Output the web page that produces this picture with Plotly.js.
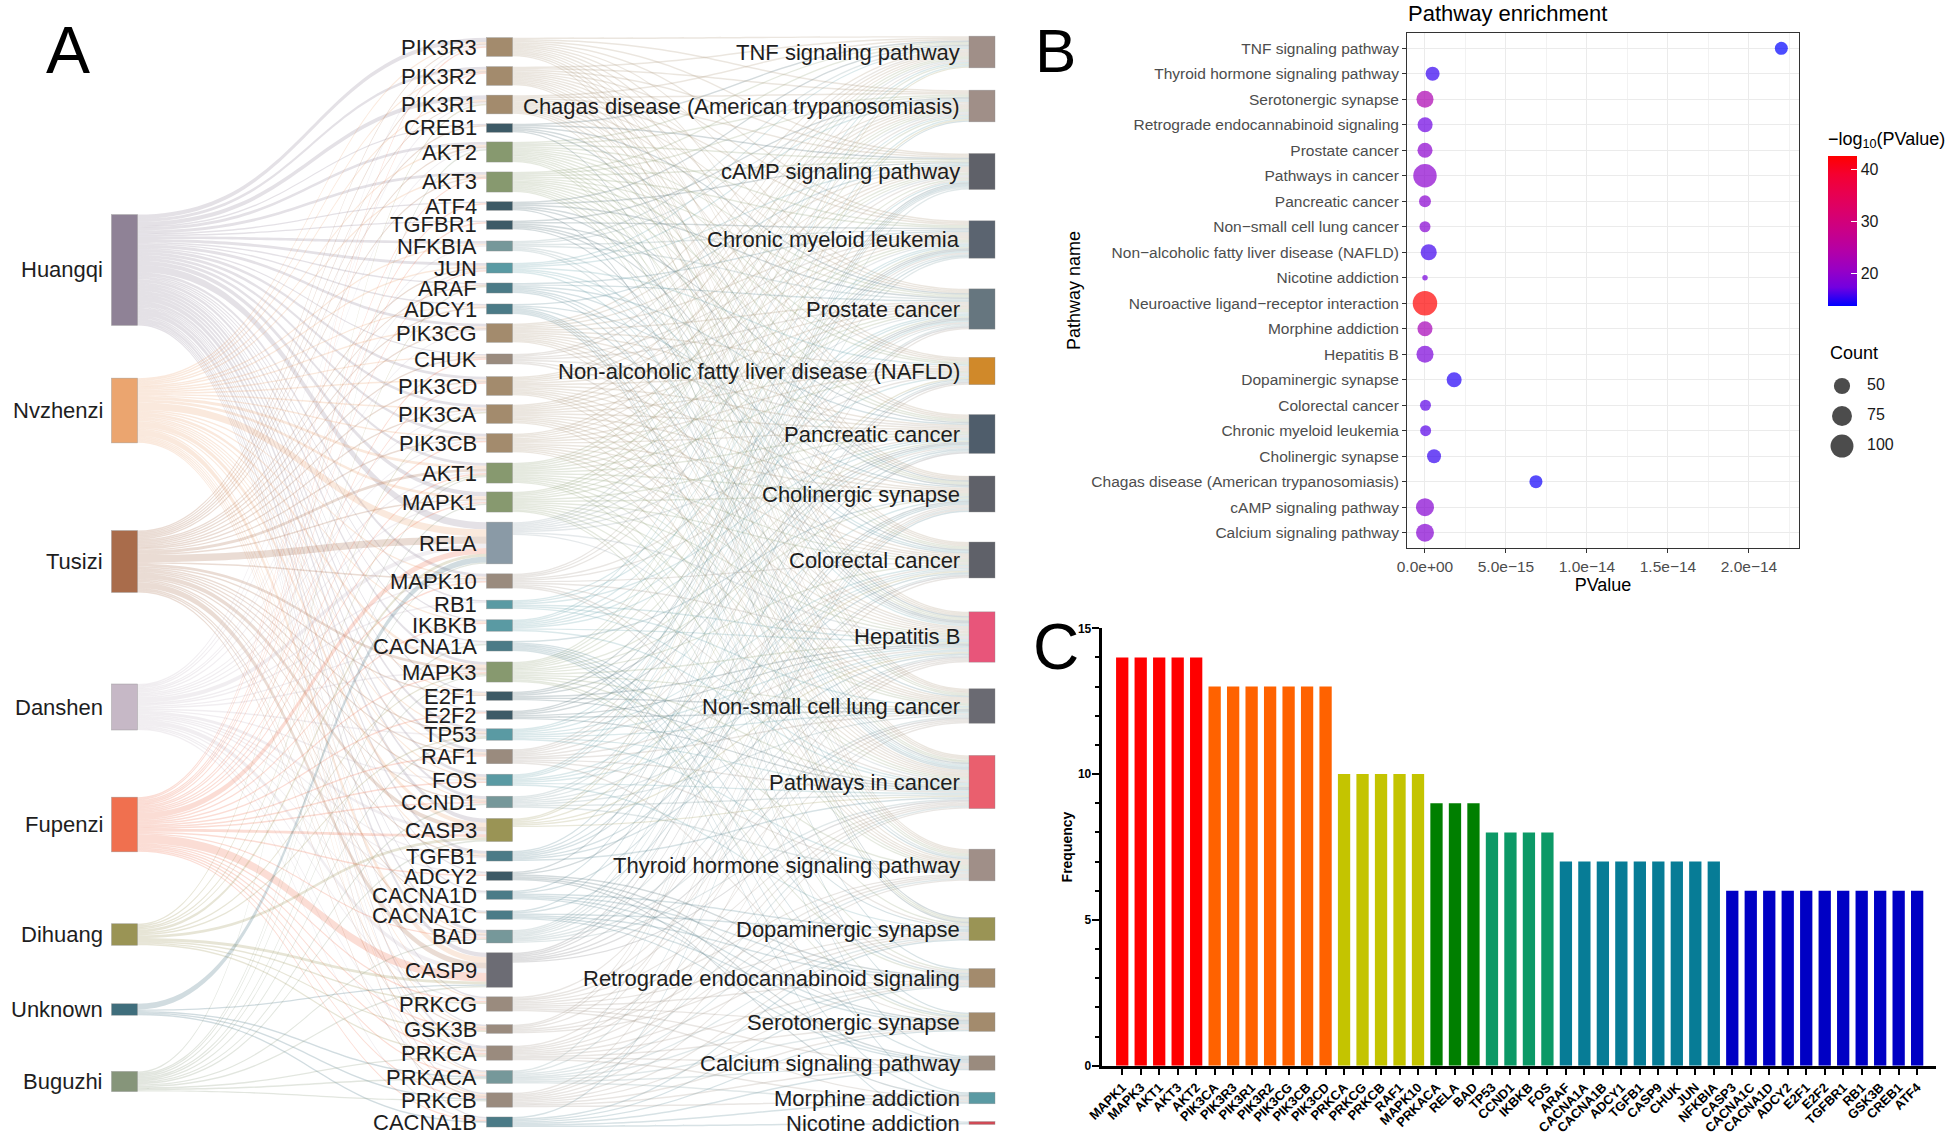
<!DOCTYPE html>
<html>
<head>
<meta charset="utf-8">
<script src="https://cdn.plot.ly/plotly-3.0.1.min.js"></script>
<style>
html,body{margin:0;padding:0;background:#ffffff;}
#chart{width:1960px;height:1136px;}
</style>
</head>
<body>
<div id="chart"></div>
<script>
// ======================= DATA =======================
// Panel A — Sankey: herbs -> target genes -> KEGG pathways
const herbs = ["Huangqi","Nvzhenzi","Tusizi","Danshen","Fupenzi","Dihuang","Unknown","Buguzhi"];

const sankeyGenes = ["PIK3R3","PIK3R2","PIK3R1","CREB1","AKT2","AKT3","ATF4","TGFBR1","NFKBIA","JUN",
  "ARAF","ADCY1","PIK3CG","CHUK","PIK3CD","PIK3CA","PIK3CB","AKT1","MAPK1","RELA",
  "MAPK10","RB1","IKBKB","CACNA1A","MAPK3","E2F1","E2F2","TP53","RAF1","FOS",
  "CCND1","CASP3","TGFB1","ADCY2","CACNA1D","CACNA1C","BAD","CASP9","PRKCG","GSK3B",
  "PRKCA","PRKACA","PRKCB","CACNA1B"];

const sankeyPathways = ["TNF signaling pathway","Chagas disease (American trypanosomiasis)","cAMP signaling pathway",
  "Chronic myeloid leukemia","Prostate cancer","Non-alcoholic fatty liver disease (NAFLD)","Pancreatic cancer",
  "Cholinergic synapse","Colorectal cancer","Hepatitis B","Non-small cell lung cancer","Pathways in cancer",
  "Thyroid hormone signaling pathway","Dopaminergic synapse","Retrograde endocannabinoid signaling",
  "Serotonergic synapse","Calcium signaling pathway","Morphine addiction","Nicotine addiction"];

// herb -> gene link weights
const herbGeneLinks = {
  Huangqi: {PIK3R3:3,PIK3R2:2,PIK3R1:3,CREB1:1,AKT2:2,AKT3:2,ATF4:1,TGFBR1:1,NFKBIA:2,JUN:2,ARAF:1,ADCY1:1,
    PIK3CG:2,CHUK:1,PIK3CD:2,PIK3CA:2,PIK3CB:2,AKT1:2,MAPK1:3,RELA:5,MAPK10:2,RB1:1,IKBKB:1,CACNA1A:1,
    MAPK3:2,E2F1:1,E2F2:1,TP53:2,RAF1:2,FOS:2,CCND1:2,CASP3:3,TGFB1:2,ADCY2:1,CACNA1D:1,CACNA1C:1,BAD:2,
    CASP9:3,PRKCG:1,GSK3B:1,PRKCA:2,PRKACA:1,PRKCB:1,CACNA1B:1},
  Nvzhenzi: {PIK3R3:1,PIK3R1:1,AKT2:1,AKT3:1,JUN:1,PIK3CG:1,PIK3CD:1,PIK3CA:1,PIK3CB:1,AKT1:2,MAPK1:2,RELA:5,
    MAPK10:1,MAPK3:2,TP53:1,FOS:1,CCND1:1,CASP3:3,TGFB1:1,BAD:1,CASP9:4,GSK3B:1,PRKCA:1,PRKCB:1,PRKCG:1,
    NFKBIA:1,IKBKB:1,PIK3R2:1,CHUK:1,RAF1:1,PRKACA:1,ADCY1:1,E2F1:1},
  Tusizi: {PIK3R3:1,PIK3R2:1,PIK3R1:1,CREB1:1,AKT2:1,AKT3:1,JUN:1,PIK3CG:1,PIK3CD:1,PIK3CA:1,PIK3CB:1,AKT1:2,
    MAPK1:1,RELA:5,MAPK10:1,MAPK3:2,TP53:1,RAF1:1,FOS:1,CCND1:1,CASP3:3,TGFB1:1,BAD:1,CASP9:4,PRKCA:1,PRKCB:1,
    GSK3B:1,E2F1:1,ADCY1:1,CACNA1C:1,ARAF:1,CHUK:1},
  Danshen: {PIK3R3:1,PIK3R1:1,AKT2:1,PIK3CG:1,PIK3CA:1,AKT1:1,MAPK1:1,RELA:3,MAPK3:1,TP53:1,FOS:1,CASP3:2,
    TGFB1:1,BAD:1,CASP9:3,PRKCG:1,PRKCA:1,PRKACA:1,CACNA1A:1,CACNA1B:1,CACNA1D:1,ADCY2:1,JUN:1,NFKBIA:1,
    MAPK10:1,RB1:1,PIK3CB:1},
  Fupenzi: {PIK3R2:1,PIK3R3:1,AKT3:1,TGFBR1:1,JUN:1,PIK3CD:1,PIK3CB:1,AKT1:1,MAPK1:1,RELA:4,MAPK10:1,IKBKB:1,
    MAPK3:1,E2F2:1,RAF1:1,FOS:1,CCND1:1,CASP3:2,ADCY2:1,BAD:1,CASP9:6,PRKCG:1,GSK3B:1,PRKCA:1,PRKACA:1,
    PRKCB:1,CACNA1B:1,CHUK:1,ATF4:1},
  Dihuang: {AKT1:1,MAPK3:1,RELA:2,CASP3:2,CASP9:2,PIK3R1:1,PIK3CA:1,TP53:1,PRKCG:1,PRKCA:1,GSK3B:1,ARAF:1},
  Unknown: {RELA:4,CASP9:1,PRKACA:1,PRKCB:1,CACNA1B:1},
  Buguzhi: {RELA:1,CASP3:1,CASP9:1,MAPK1:1,AKT1:1,PRKCA:1,PRKACA:1,PRKCB:1,CACNA1A:1,MAPK3:1,CCND1:1,TP53:1,BAD:1,AKT2:1}
};

// gene membership of each pathway (gene -> pathway links, weight 1 each)
const pathwayGenes = {
  "TNF signaling pathway": ["PIK3CA","PIK3CB","PIK3CD","PIK3CG","PIK3R1","PIK3R2","PIK3R3","AKT1","AKT2","AKT3","MAPK1","MAPK3",
    "MAPK10","FOS","JUN","CREB1","ATF4","NFKBIA","IKBKB","CHUK","RELA","CASP3"],
  "Chagas disease (American trypanosomiasis)": ["PIK3CA","PIK3CB","PIK3CD","PIK3CG","PIK3R1","PIK3R2","PIK3R3","AKT1","AKT2","AKT3","MAPK1","MAPK3",
    "MAPK10","FOS","JUN","NFKBIA","IKBKB","CHUK","RELA","TGFB1","TGFBR1","CASP3"],
  "cAMP signaling pathway": ["PIK3CA","PIK3CB","PIK3CD","PIK3CG","PIK3R1","PIK3R2","PIK3R3","AKT1","AKT2","AKT3","MAPK1","MAPK3",
    "RAF1","PRKACA","ADCY1","ADCY2","CREB1","ATF4","CACNA1C","CACNA1D","MAPK10","JUN","FOS","RELA","BAD"],
  "Chronic myeloid leukemia": ["PIK3CA","PIK3CB","PIK3CD","PIK3CG","PIK3R1","PIK3R2","PIK3R3","AKT1","AKT2","AKT3","MAPK1","MAPK3",
    "RAF1","ARAF","BAD","TP53","CCND1","E2F1","E2F2","RB1","IKBKB","CHUK","NFKBIA","RELA","TGFB1","TGFBR1"],
  "Prostate cancer": ["PIK3CA","PIK3CB","PIK3CD","PIK3CG","PIK3R1","PIK3R2","PIK3R3","AKT1","AKT2","AKT3","MAPK1","MAPK3",
    "RAF1","ARAF","BAD","TP53","CCND1","E2F1","E2F2","RB1","IKBKB","CHUK","NFKBIA","RELA","CREB1","ATF4","GSK3B","CASP9"],
  "Non-alcoholic fatty liver disease (NAFLD)": ["PIK3CA","PIK3CB","PIK3CD","PIK3CG","PIK3R1","PIK3R2","PIK3R3","AKT1","AKT2","AKT3",
    "MAPK10","JUN","IKBKB","RELA","CASP3","TGFB1","GSK3B","BAD","CASP9"],
  "Pancreatic cancer": ["PIK3CA","PIK3CB","PIK3CD","PIK3CG","PIK3R1","PIK3R2","PIK3R3","AKT1","AKT2","AKT3","MAPK1","MAPK3",
    "RAF1","ARAF","BAD","TP53","CCND1","E2F1","E2F2","RB1","IKBKB","CHUK","RELA","TGFB1","TGFBR1","MAPK10","CASP9"],
  "Cholinergic synapse": ["PIK3CA","PIK3CB","PIK3CD","PIK3CG","PIK3R1","PIK3R2","PIK3R3","AKT1","AKT2","AKT3","MAPK1","MAPK3",
    "PRKCA","PRKCB","PRKCG","PRKACA","ADCY1","ADCY2","CREB1","ATF4","CACNA1A","CACNA1B","CACNA1C","CACNA1D","FOS"],
  "Colorectal cancer": ["PIK3CA","PIK3CB","PIK3CD","PIK3CG","PIK3R1","PIK3R2","PIK3R3","AKT1","AKT2","AKT3","MAPK1","MAPK3",
    "RAF1","ARAF","BAD","TP53","CCND1","MAPK10","JUN","FOS","CASP3","CASP9","TGFB1","TGFBR1","GSK3B"],
  "Hepatitis B": ["PIK3CA","PIK3CB","PIK3CD","PIK3CG","PIK3R1","PIK3R2","PIK3R3","AKT1","AKT2","AKT3","MAPK1","MAPK3",
    "RAF1","PRKCA","PRKCB","PRKCG","MAPK10","JUN","FOS","CREB1","ATF4","NFKBIA","IKBKB","CHUK","RELA","TP53","CCND1",
    "E2F1","E2F2","RB1","CASP3","CASP9","BAD","TGFB1","TGFBR1"],
  "Non-small cell lung cancer": ["PIK3CA","PIK3CB","PIK3CD","PIK3CG","PIK3R1","PIK3R2","PIK3R3","AKT1","AKT2","AKT3","MAPK1","MAPK3",
    "RAF1","ARAF","BAD","TP53","CCND1","E2F1","E2F2","RB1","PRKCA","PRKCB","PRKCG","CASP9"],
  "Pathways in cancer": ["PIK3CA","PIK3CB","PIK3CD","PIK3CG","PIK3R1","PIK3R2","PIK3R3","AKT1","AKT2","AKT3","MAPK1","MAPK3",
    "RAF1","ARAF","BAD","TP53","CCND1","E2F1","E2F2","RB1","PRKCA","PRKCB","PRKCG","PRKACA","MAPK10","JUN","FOS","NFKBIA",
    "IKBKB","CHUK","RELA","CASP3","CASP9","TGFB1","TGFBR1","GSK3B","ADCY1"],
  "Thyroid hormone signaling pathway": ["PIK3CA","PIK3CB","PIK3CD","PIK3CG","PIK3R1","PIK3R2","PIK3R3","AKT1","AKT2","AKT3","MAPK1","MAPK3",
    "RAF1","ARAF","PRKCA","PRKCB","PRKCG","PRKACA","TP53","CCND1","GSK3B","NFKBIA"],
  "Dopaminergic synapse": ["AKT1","AKT2","AKT3","MAPK10","PRKCA","PRKCB","PRKCG","PRKACA","CACNA1A","CACNA1B","CACNA1C","CACNA1D",
    "CREB1","ATF4","GSK3B","FOS"],
  "Retrograde endocannabinoid signaling": ["MAPK1","MAPK3","MAPK10","PRKCA","PRKCB","PRKCG","PRKACA","ADCY1","ADCY2",
    "CACNA1A","CACNA1B","CACNA1C","CACNA1D"],
  "Serotonergic synapse": ["MAPK1","MAPK3","RAF1","PRKCA","PRKCB","PRKCG","PRKACA","CACNA1A","CACNA1B","CACNA1C","CACNA1D","ADCY1","ADCY2"],
  "Calcium signaling pathway": ["PRKCA","PRKCB","PRKCG","PRKACA","ADCY1","ADCY2","CACNA1A","CACNA1B","CACNA1C","CACNA1D"],
  "Morphine addiction": ["PRKCA","PRKCB","PRKCG","PRKACA","ADCY1","ADCY2","CACNA1A","CACNA1B"],
  "Nicotine addiction": ["CACNA1A","CACNA1B"]
};

// Panel B — pathway enrichment (rows listed top to bottom)
const enrichPathways = ["TNF signaling pathway","Thyroid hormone signaling pathway","Serotonergic synapse",
  "Retrograde endocannabinoid signaling","Prostate cancer","Pathways in cancer","Pancreatic cancer",
  "Non\u2212small cell lung cancer","Non\u2212alcoholic fatty liver disease (NAFLD)","Nicotine addiction",
  "Neuroactive ligand\u2212receptor interaction","Morphine addiction","Hepatitis B","Dopaminergic synapse",
  "Colorectal cancer","Chronic myeloid leukemia","Cholinergic synapse","Chagas disease (American trypanosomiasis)",
  "cAMP signaling pathway","Calcium signaling pathway"];
const enrichPValue = [2.2e-14, 4.7e-16, 6e-24, 8e-18, 3e-20, 3e-20, 5e-20, 1e-19, 2.3e-16, 2e-18,
  2e-43, 4e-23, 1e-18, 1.8e-15, 3e-17, 4e-17, 5.6e-16, 6.85e-15, 1e-19, 1e-19];
const enrichCount = [35, 39, 55, 44, 44, 105, 31, 28, 49, 20, 115, 44, 55, 44, 28, 28, 39, 35, 61, 61];
const countLegendValues = [50, 75, 100];
const pTickVals = [0, 5e-15, 1e-14, 1.5e-14, 2e-14];
const pTickText = ["0.0e+00","5.0e\u221215","1.0e\u221214","1.5e\u221214","2.0e\u221214"];
const colorTickVals = [20, 30, 40];

// Panel C — gene frequency
const barGenes = ["MAPK1","MAPK3","AKT1","AKT3","AKT2","PIK3CA","PIK3R3","PIK3R1","PIK3R2","PIK3CG","PIK3CB","PIK3CD",
  "PRKCA","PRKCG","PRKCB","RAF1","MAPK10","PRKACA","RELA","BAD","TP53","CCND1","IKBKB","FOS",
  "ARAF","CACNA1A","CACNA1B","ADCY1","TGFB1","CASP9","CHUK","JUN","NFKBIA",
  "CASP3","CACNA1C","CACNA1D","ADCY2","E2F1","E2F2","TGFBR1","RB1","GSK3B","CREB1","ATF4"];
const barFrequency = [14,14,14,14,14,13,13,13,13,13,13,13,10,10,10,10,10,9,9,9,8,8,8,8,
  7,7,7,7,7,7,7,7,7,6,6,6,6,6,6,6,6,6,6,6];

// ======================= STYLE / LAYOUT =======================
const W = 1960, H = 1136;
const FONT = "Liberation Sans, Arial, Helvetica, sans-serif";

const HERB_COLOR = {Huangqi:"#8f8296",Nvzhenzi:"#eba56f",Tusizi:"#a96c4b",Danshen:"#c6b8c6",
  Fupenzi:"#f0704f",Dihuang:"#9a9455",Unknown:"#3f6e7c",Buguzhi:"#86957a"};
const TAN="#a38b6d", SLATE="#3d5a66", SAGE="#87996f", GTEAL="#76989a", TEAL="#5a9aa3",
      DTEAL="#4b7b87", TAUPE="#9a8b7e";
const GENE_COLOR = {PIK3R3:TAN,PIK3R2:TAN,PIK3R1:TAN,PIK3CG:TAN,PIK3CD:TAN,PIK3CA:TAN,PIK3CB:TAN,
  CREB1:SLATE,ATF4:SLATE,TGFBR1:SLATE,E2F1:SLATE,E2F2:SLATE,ADCY2:SLATE,
  AKT2:SAGE,AKT3:SAGE,AKT1:SAGE,MAPK1:SAGE,MAPK3:SAGE,
  NFKBIA:GTEAL,CCND1:GTEAL,BAD:GTEAL,PRKACA:GTEAL,
  JUN:TEAL,RB1:TEAL,IKBKB:TEAL,TP53:TEAL,FOS:TEAL,
  ARAF:DTEAL,ADCY1:DTEAL,CACNA1A:DTEAL,TGFB1:DTEAL,CACNA1D:DTEAL,CACNA1C:DTEAL,CACNA1B:DTEAL,
  CHUK:TAUPE,MAPK10:TAUPE,RAF1:TAUPE,PRKCG:TAUPE,GSK3B:TAUPE,PRKCA:TAUPE,PRKCB:TAUPE,
  RELA:"#8a9aa6",CASP3:"#9a9455",CASP9:"#6c6c74"};
const PATH_COLOR = {"TNF signaling pathway":"#a08f88","Chagas disease (American trypanosomiasis)":"#a08f88",
  "cAMP signaling pathway":"#5f6169","Chronic myeloid leukemia":"#5b6470","Prostate cancer":"#66767f",
  "Non-alcoholic fatty liver disease (NAFLD)":"#d0892a","Pancreatic cancer":"#4f5d6b","Cholinergic synapse":"#5f6169",
  "Colorectal cancer":"#5f6169","Hepatitis B":"#e8557a","Non-small cell lung cancer":"#6a6a72",
  "Pathways in cancer":"#ea5f6e","Thyroid hormone signaling pathway":"#a08f88","Dopaminergic synapse":"#9a9455",
  "Retrograde endocannabinoid signaling":"#a38b6d","Serotonergic synapse":"#a38b6d","Calcium signaling pathway":"#9a8b7e",
  "Morphine addiction":"#5a9aa3","Nicotine addiction":"#d04a55"};

// Sankey geometry (pixel placement of node centres in the 1960x1136 page)
const SK_DOMAIN_X = [0, 0.52];
const SK_W = (SK_DOMAIN_X[1]-SK_DOMAIN_X[0]) * W;
const NODE_THICK = 26, NODE_PAD = 11.5;
const COL_X_PX = [124.5, 499.5, 982];
const HERB_Y_PX = {Huangqi:270,Nvzhenzi:410.5,Tusizi:561.5,Danshen:707,Fupenzi:824.5,Dihuang:934.5,Unknown:1009.5,Buguzhi:1081.5};
const GENE_Y_PX = {PIK3R3:47,PIK3R2:76,PIK3R1:104.5,CREB1:128,AKT2:152,AKT3:182,ATF4:206,TGFBR1:225,NFKBIA:246,JUN:268,
  ARAF:288,ADCY1:309,PIK3CG:333,CHUK:359,PIK3CD:386,PIK3CA:414,PIK3CB:443,AKT1:473,MAPK1:502,RELA:543,
  MAPK10:581,RB1:604.5,IKBKB:625.5,CACNA1A:646,MAPK3:672,E2F1:696,E2F2:715,TP53:734.5,RAF1:756.5,FOS:780,
  CCND1:802,CASP3:830,TGFB1:856,ADCY2:876,CACNA1D:895,CACNA1C:915,BAD:936.5,CASP9:970,PRKCG:1004,GSK3B:1029,
  PRKCA:1053,PRKACA:1077,PRKCB:1100,CACNA1B:1122};
const PATH_Y_PX = {"TNF signaling pathway":52,"Chagas disease (American trypanosomiasis)":106,"cAMP signaling pathway":171.5,
  "Chronic myeloid leukemia":239.5,"Prostate cancer":309,"Non-alcoholic fatty liver disease (NAFLD)":371,"Pancreatic cancer":434,
  "Cholinergic synapse":494,"Colorectal cancer":560,"Hepatitis B":637,"Non-small cell lung cancer":706,"Pathways in cancer":782,
  "Thyroid hormone signaling pathway":865,"Dopaminergic synapse":929,"Retrograde endocannabinoid signaling":978,
  "Serotonergic synapse":1022,"Calcium signaling pathway":1063,"Morphine addiction":1098,"Nicotine addiction":1123};

function rgba(hex, a){
  const n = parseInt(hex.slice(1),16);
  return `rgba(${(n>>16)&255},${(n>>8)&255},${n&255},${a})`;
}

// ---- build sankey tables ----
const columns = [herbs, sankeyGenes, sankeyPathways];
const posY = [HERB_Y_PX, GENE_Y_PX, PATH_Y_PX];
const colorMaps = [HERB_COLOR, GENE_COLOR, PATH_COLOR];
const nodeNames = [], nodeX = [], nodeY = [], nodeColor = [];
columns.forEach((col, c) => col.forEach(name => {
  nodeNames.push(name);
  nodeX.push(COL_X_PX[c] / SK_W);
  nodeY.push(posY[c][name] / H);
  nodeColor.push(colorMaps[c][name]);
}));
const idx = {}; nodeNames.forEach((n,i)=>{ idx[n]=i; });

const src=[], tgt=[], val=[], lcol=[];
herbs.forEach(h => Object.keys(herbGeneLinks[h]).forEach(g => {
  src.push(idx[h]); tgt.push(idx[g]); val.push(herbGeneLinks[h][g]); lcol.push(rgba(HERB_COLOR[h], 0.24));
}));
sankeyPathways.forEach(p => pathwayGenes[p].forEach(g => {
  src.push(idx[g]); tgt.push(idx[p]); val.push(1); lcol.push(rgba(GENE_COLOR[g], 0.22));
}));

const sankeyTrace = {
  type: "sankey",
  arrangement: "fixed",
  domain: {x: SK_DOMAIN_X, y: [0, 1]},
  hoverinfo: "none",
  textfont: {family: FONT, size: 1, color: "rgba(0,0,0,0)"},
  node: {
    label: nodeNames,
    x: nodeX, y: nodeY,
    color: nodeColor,
    thickness: NODE_THICK,
    pad: NODE_PAD,
    line: {color: "rgba(140,140,140,0.6)", width: 0.6},
    hoverinfo: "none"
  },
  link: {source: src, target: tgt, value: val, color: lcol, hoverinfo: "none"}
};

// ---- sankey labels (left of each node) ----
const annotations = [];
columns.forEach((col, c) => col.forEach(name => {
  annotations.push({
    xref: "paper", yref: "paper",
    x: (SK_DOMAIN_X[0]*W + COL_X_PX[c]) / W,
    y: 1 - posY[c][name] / H,
    xanchor: "right", yanchor: "middle",
    xshift: -(NODE_THICK/2 + 7),
    text: name, showarrow: false,
    font: {family: FONT, size: 22, color: "#1e1e1e"}
  });
}));

// ---- panel letters ----
[["A", 68, 50, 66], ["B", 1055, 50, 62], ["C", 1056, 647, 64]].forEach(([t, x, y, s]) => {
  annotations.push({xref:"paper", yref:"paper", x: x/W, y: 1-y/H, xanchor:"center", yanchor:"middle",
    text: t, showarrow:false, font:{family:FONT, size:s, color:"#000"}});
});

// ---- Panel B ----
const sizeOf = c => 5.5 + 19 * Math.sqrt(Math.max(0, (c - 20) / (115 - 20)));
const colorscale = [[0,"#0000FF"],[0.125,"#7300E0"],[0.25,"#9A00C3"],[0.375,"#B500A5"],[0.5,"#C90088"],
  [0.625,"#DA006C"],[0.75,"#E80050"],[0.875,"#F40031"],[1,"#FF0000"]];

const CB_TITLE_PX = 29;   // room taken by the colour-bar title above the bar
const enrichTrace = {
  type: "scatter", mode: "markers", xaxis: "x", yaxis: "y",
  x: enrichPValue, y: enrichPathways,
  hoverinfo: "none",
  marker: {
    size: enrichCount.map(sizeOf),
    color: enrichPValue.map(p => -Math.log10(p)),
    colorscale: colorscale,
    line: {width: 0},
    showscale: true,
    colorbar: {
      x: 1828/W, xanchor: "left", xpad: 0,
      y: 1 - ((157 - CB_TITLE_PX) + 306)/2/H, yanchor: "middle", ypad: 0,
      len: (149 + CB_TITLE_PX)/H, lenmode: "fraction", thickness: 29,
      outlinewidth: 0,
      ticks: "inside", ticklen: 6, tickwidth: 1, tickcolor: "#ffffff",
      tickvals: colorTickVals,
      tickfont: {family: FONT, size: 16, color: "#1a1a1a"},
      title: {text: "\u2212log<sub>10</sub>(PValue)", side: "top", font: {family: FONT, size: 18, color: "#000"}}
    }
  }
};

annotations.push({xref:"paper", yref:"paper", x: 1828/W, y: 1-353/H, xanchor:"left", yanchor:"middle",
  text:"Count", showarrow:false, font:{family:FONT, size:18, color:"#000"}});

const countLegendTrace = {
  type:"scatter", mode:"markers", xaxis:"x3", yaxis:"y3", hoverinfo:"none",
  x: countLegendValues.map(() => 12), y: countLegendValues,
  marker: {size: countLegendValues.map(sizeOf), color:"#000000", line:{width:0}}
};
const countLegendText = {
  type:"scatter", mode:"text", xaxis:"x3", yaxis:"y3", hoverinfo:"none",
  x: countLegendValues.map(() => 37), y: countLegendValues,
  text: countLegendValues.map(String), textposition:"middle right",
  textfont: {family: FONT, size: 16, color:"#1a1a1a"}
};

// ---- Panel C ----
const FREQ_COLOR = {14:"#ff0000", 13:"#ff6200", 10:"#c4c400", 9:"#007f00", 8:"#0c9966", 7:"#077c96", 6:"#0000c4"};
const barTrace = {
  type:"bar", xaxis:"x2", yaxis:"y2", hoverinfo:"none",
  x: barGenes, y: barFrequency,
  marker: {color: barFrequency.map(v => FREQ_COLOR[v]), line:{width:0}}
};

const layout = {
  width: W, height: H,
  margin: {l:0, r:0, t:0, b:0, pad:0},
  paper_bgcolor: "#ffffff", plot_bgcolor: "#ffffff",
  font: {family: FONT, color: "#000"},
  showlegend: false,
  bargap: 0.335,
  title: {text: "Pathway enrichment", x: 1408/W, xanchor: "left", xref:"paper",
          y: 1 - 13/H, yref:"paper", yanchor: "middle", font:{family:FONT, size:22, color:"#000"}},
  xaxis: {
    domain: [1407/W, 1799/W], anchor: "y",
    range: [-1.11e-15, 2.309e-14],
    tickmode: "array", tickvals: pTickVals, ticktext: pTickText,
    showgrid: true, gridcolor: "#ebebeb", gridwidth: 1.4,
    minor: {tick0: 2.5e-15, dtick: 5e-15, showgrid: true, gridcolor: "#f2f2f2", gridwidth: 0.8},
    zeroline: false, showline: true, mirror: true, linecolor: "#333333", linewidth: 1,
    ticks: "outside", ticklen: 4, tickwidth: 1, tickcolor: "#333333",
    tickfont: {family: FONT, size: 15.5, color: "#4d4d4d"},
    title: {text: "PValue", font: {family: FONT, size: 18, color: "#000"}, standoff: 4},
    fixedrange: true
  },
  yaxis: {
    domain: [1 - 548/H, 1 - 33/H], anchor: "x",
    type: "category", categoryorder: "array", categoryarray: enrichPathways.slice().reverse(),
    range: [-0.6, 19.6], tickmode: "linear", dtick: 1, tick0: 0,
    showgrid: true, gridcolor: "#ebebeb", gridwidth: 1.4,
    zeroline: false, showline: true, mirror: true, linecolor: "#333333", linewidth: 1,
    ticks: "outside", ticklen: 4, tickwidth: 1, tickcolor: "#333333",
    tickfont: {family: FONT, size: 15.5, color: "#4d4d4d"},
    title: {text: "Pathway name", font: {family: FONT, size: 18, color: "#000"}, standoff: 6},
    fixedrange: true
  },
  xaxis2: {
    domain: [1101.7/W, 1936/W], anchor: "y2",
    type: "category", range: [-1.11, 44.02], tickmode: "linear", dtick: 1, tick0: 0,
    showgrid: false, zeroline: false, showline: true, linecolor: "#000", linewidth: 3,
    ticks: "outside", ticklen: 6, tickwidth: 2, tickcolor: "#000",
    tickangle: -45,
    tickfont: {family: FONT, size: 13, color: "#000", weight: "bold"},
    fixedrange: true
  },
  yaxis2: {
    domain: [1 - 1065.7/H, 1 - 628.3/H], anchor: "x2",
    range: [0, 15], tickmode: "array", tickvals: [0,5,10,15],
    showgrid: false, zeroline: false, showline: true, linecolor: "#000", linewidth: 3,
    ticks: "outside", ticklen: 7, tickwidth: 2, tickcolor: "#000",
    ticklabelstandoff: -2,
    minor: {dtick: 1, tick0: 0, ticks: "outside", ticklen: 4, tickwidth: 2, tickcolor: "#000"},
    tickfont: {family: FONT, size: 12, color: "#000", weight: "bold"},
    title: {text: "Frequency", font: {family: FONT, size: 14, color: "#000", weight: "bold"}, standoff: 3},
    fixedrange: true
  },
  xaxis3: {domain: [1830/W, 1900/W], anchor: "y3", range: [0, 70], visible: false, fixedrange: true},
  yaxis3: {domain: [1 - 462/H, 1 - 370/H], anchor: "x3", range: [113.3, 36.7], visible: false, fixedrange: true},
  annotations: annotations
};

Plotly.newPlot("chart", [sankeyTrace, barTrace, enrichTrace, countLegendTrace, countLegendText], layout,
  {displayModeBar: false, responsive: false}).then(gd => {
    // remove the (invisible) built-in sankey node labels; visible labels are the annotations above
    gd.querySelectorAll(".sankey .node-label").forEach(el => el.remove());
  });
</script>
</body>
</html>
